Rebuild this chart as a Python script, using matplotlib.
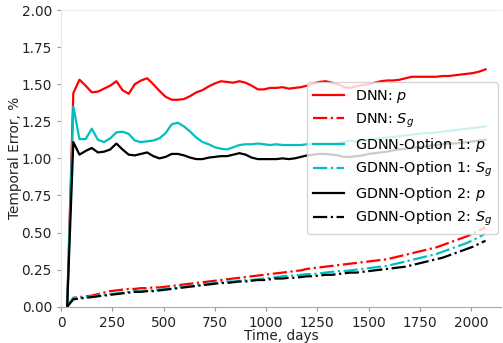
import matplotlib
matplotlib.use('Agg')
import matplotlib.pyplot as plt

# Simulation times, days (monthly report steps)
days = list(range(30, 2071, 30))

# Temporal error, % -- pressure (p) and gas saturation (S_g)
dnn_p = [0.0, 1.44, 1.53, 1.49, 1.445, 1.45, 1.47, 1.49, 1.52, 1.46,
         1.435, 1.50, 1.525, 1.54, 1.50, 1.455, 1.415, 1.395, 1.395, 1.40,
         1.42, 1.445, 1.46, 1.485, 1.505, 1.52, 1.515, 1.51, 1.52, 1.51,
         1.49, 1.465, 1.465, 1.475, 1.475, 1.48, 1.47, 1.475, 1.48, 1.49,
         1.505, 1.515, 1.52, 1.51, 1.50, 1.48, 1.475, 1.485, 1.495, 1.50,
         1.51, 1.52, 1.525, 1.525, 1.53, 1.54, 1.55, 1.55, 1.55, 1.55,
         1.55, 1.555, 1.555, 1.56, 1.565, 1.57, 1.575, 1.585, 1.60]
dnn_sg = [0.0, 0.06, 0.065, 0.07, 0.075, 0.085, 0.095, 0.105, 0.11, 0.115,
          0.12, 0.12, 0.125, 0.125, 0.13, 0.13, 0.135, 0.14, 0.145, 0.15,
          0.155, 0.16, 0.165, 0.17, 0.175, 0.18, 0.185, 0.19, 0.195, 0.20,
          0.205, 0.21, 0.215, 0.22, 0.225, 0.23, 0.235, 0.24, 0.245, 0.255,
          0.26, 0.265, 0.27, 0.275, 0.28, 0.285, 0.29, 0.295, 0.30, 0.305,
          0.31, 0.315, 0.32, 0.33, 0.34, 0.35, 0.36, 0.37, 0.38, 0.39,
          0.40, 0.415, 0.43, 0.445, 0.46, 0.475, 0.495, 0.515, 0.535]
opt1_p = [0.0, 1.35, 1.13, 1.13, 1.20, 1.125, 1.11, 1.135, 1.175, 1.18,
          1.165, 1.12, 1.11, 1.115, 1.12, 1.135, 1.17, 1.23, 1.24, 1.215,
          1.18, 1.14, 1.11, 1.095, 1.075, 1.065, 1.06, 1.075, 1.09, 1.095,
          1.095, 1.10, 1.095, 1.09, 1.095, 1.09, 1.09, 1.09, 1.09, 1.095,
          1.10, 1.095, 1.10, 1.095, 1.10, 1.11, 1.12, 1.115, 1.12, 1.125,
          1.13, 1.135, 1.14, 1.145, 1.15, 1.155, 1.16, 1.165, 1.17, 1.17,
          1.175, 1.18, 1.185, 1.19, 1.195, 1.20, 1.205, 1.21, 1.215]
opt1_sg = [0.0, 0.06, 0.06, 0.065, 0.07, 0.075, 0.08, 0.085, 0.09, 0.095,
           0.10, 0.105, 0.105, 0.11, 0.11, 0.115, 0.12, 0.125, 0.13, 0.135,
           0.14, 0.145, 0.15, 0.155, 0.16, 0.165, 0.17, 0.17, 0.175, 0.18,
           0.18, 0.185, 0.19, 0.195, 0.20, 0.205, 0.21, 0.21, 0.215, 0.22,
           0.22, 0.225, 0.23, 0.235, 0.24, 0.24, 0.245, 0.25, 0.255, 0.26,
           0.265, 0.27, 0.275, 0.285, 0.295, 0.305, 0.315, 0.325, 0.335, 0.345,
           0.355, 0.37, 0.385, 0.40, 0.415, 0.43, 0.45, 0.47, 0.495]
opt2_p = [0.0, 1.11, 1.025, 1.05, 1.07, 1.04, 1.045, 1.06, 1.10, 1.06,
          1.025, 1.02, 1.03, 1.04, 1.015, 1.00, 1.01, 1.03, 1.03, 1.02,
          1.005, 0.995, 0.995, 1.005, 1.01, 1.015, 1.015, 1.025, 1.035, 1.025,
          1.005, 0.995, 0.995, 0.995, 0.995, 1.0, 0.995, 1.0, 1.01, 1.02,
          1.025, 1.03, 1.03, 1.025, 1.02, 1.01, 1.01, 1.015, 1.02, 1.03,
          1.035, 1.04, 1.045, 1.055, 1.06, 1.065, 1.07, 1.075, 1.08, 1.085,
          1.09, 1.095, 1.10, 1.10, 1.105, 1.11, 1.115, 1.12, 1.125]
opt2_sg = [0.0, 0.05, 0.055, 0.06, 0.065, 0.07, 0.075, 0.08, 0.085, 0.09,
           0.095, 0.10, 0.10, 0.105, 0.105, 0.11, 0.115, 0.12, 0.125, 0.13,
           0.135, 0.14, 0.145, 0.15, 0.155, 0.16, 0.16, 0.165, 0.17, 0.17,
           0.175, 0.18, 0.18, 0.185, 0.19, 0.19, 0.195, 0.195, 0.20, 0.205,
           0.205, 0.21, 0.215, 0.215, 0.22, 0.225, 0.23, 0.23, 0.235, 0.24,
           0.245, 0.25, 0.255, 0.26, 0.265, 0.27, 0.28, 0.29, 0.30, 0.31,
           0.32, 0.33, 0.345, 0.36, 0.375, 0.39, 0.405, 0.425, 0.445]

fs = 9.8
lw = 1.6

fig = plt.figure(figsize=(5.03, 3.43), dpi=100)
ax = fig.add_axes([0.1213, 0.1058, 0.8745, 0.865])

ax.plot(days, dnn_p, color='red', lw=lw, label='DNN: $p$')
ax.plot(days, dnn_sg, color='red', lw=lw, ls='-.', label='DNN: $S_g$')
ax.plot(days, opt1_p, color='c', lw=lw, label='GDNN-Option 1: $p$')
ax.plot(days, opt1_sg, color='c', lw=lw, ls='-.', label='GDNN-Option 1: $S_g$')
ax.plot(days, opt2_p, color='black', lw=lw, label='GDNN-Option 2: $p$')
ax.plot(days, opt2_sg, color='black', lw=lw, ls='-.', label='GDNN-Option 2: $S_g$')

ax.set_xlim(0, 2145)
ax.set_ylim(0, 2.0)
ax.set_xticks([0, 250, 500, 750, 1000, 1250, 1500, 1750, 2000])
ax.set_yticks([0, 0.25, 0.5, 0.75, 1.0, 1.25, 1.5, 1.75, 2.0])
ax.tick_params(labelsize=fs, colors='#999999', labelcolor='#222222', length=3)

ax.spines['right'].set_visible(False)
ax.spines['top'].set_color('#eeeeee')
ax.spines['left'].set_color('#e6e6e6')
ax.spines['bottom'].set_color('#aaaaaa')

ax.set_xlabel('Time, days', fontsize=fs, color='#222222', labelpad=-0.4)
ax.set_ylabel('Temporal Error, %', fontsize=fs, color='#222222', labelpad=0)

ax.legend(loc='center right', bbox_to_anchor=(0.997, 0.5), borderaxespad=0.1,
          fontsize=10.4, handlelength=2.2, handletextpad=0.75, labelspacing=0.42)

fig.savefig('out.png', dpi=100)
